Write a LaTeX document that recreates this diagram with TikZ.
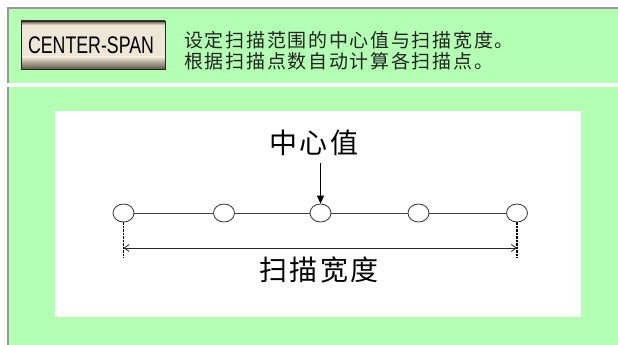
\documentclass[tikz,border=0pt]{standalone}
\usepackage{fontspec}
\setmainfont{Liberation Sans}
\newfontfamily\cjktop[LetterSpace=9]{Noto Sans CJK SC}
\newfontfamily\cjkbig[LetterSpace=8]{Noto Sans CJK SC}
\usetikzlibrary{shapes.geometric,arrows.meta}
\definecolor{panelgreen}{HTML}{B3FFB3}
\definecolor{bordergray}{HTML}{999999}
\definecolor{btnface}{HTML}{EEE7D8}
\definecolor{btndark}{HTML}{5E5646}
\definecolor{txtdark}{HTML}{222222}
\tikzset{
  pt/.style={ellipse,draw=black!80,line width=0.8pt,fill=white,minimum width=21pt,minimum height=18pt,inner sep=0pt},
  link/.style={draw=black!75,line width=0.8pt},
  guide/.style={draw=black,line width=1.5pt,dash pattern=on 2.5pt off 1pt},
  label/.style={inner sep=0pt,anchor=center}
}
\begin{document}
\begin{tikzpicture}[x=1pt,y=-1pt]
\useasboundingbox (0,0) rectangle (618,345);
\fill[white] (0,0) rectangle (618,345);
% top panel
\fill[panelgreen] (9,9) rectangle (618,83);
\fill[bordergray] (7,7) rectangle (618,9);
\fill[bordergray] (7,7) rectangle (9,83);
% lower panel
\fill[panelgreen] (9,87) rectangle (618,345);
\fill[bordergray] (7,87) rectangle (9,345);
% white drawing area
\fill[white] (55,111) rectangle (581,317);
% button
\fill[btnface] (21,21) rectangle (165,69);
\shade[top color=btnface,bottom color=btndark] (21,57) rectangle (165,69);
\shade[top color=btndark,bottom color=btnface] (21,21) rectangle (165,25);
\draw[black!85,line width=0.9pt] (21,21) rectangle (165,69);
\node[label,text=black] (btn) at (91,45) {\scalebox{0.74}[1]{\fontsize{24}{27}\selectfont CENTER-SPAN}};
% description
\node[label,anchor=west,text=txtdark] (d1) at (184,40) {\cjktop\fontsize{19}{22}\selectfont 设定扫描范围的中心值与扫描宽度。};
\node[label,anchor=west,text=txtdark] (d2) at (184,61) {\cjktop\fontsize{19}{22}\selectfont 根据扫描点数自动计算各扫描点。};
% points
\node[pt] (c1) at (123.5,213) {};
\node[pt] (c2) at (224,213) {};
\node[pt] (c3) at (320.5,213) {};
\node[pt] (c4) at (418.5,213) {};
\node[pt] (c5) at (517,213) {};
\draw[link] (c1) -- (c2);
\draw[link] (c2) -- (c3);
\draw[link] (c3) -- (c4);
\draw[link] (c4) -- (c5);
% center label and arrow
\node[label,text=black] (center) at (314,143) {\cjkbig\fontsize{28}{31}\selectfont 中心值};
\coordinate (atop) at (320.5,163);
\draw[black,line width=0.8pt,-{Triangle[length=8pt,width=7pt]}] (atop) -- (c3.north);
% span guides
\coordinate (g1) at (123.5,258);
\coordinate (g5) at (517,258);
\draw[guide] (c1.south) -- (g1);
\draw[guide] (c5.south) -- (g5);
\coordinate (s1) at (123.5,248);
\coordinate (s5) at (517,248);
\draw[black!85,line width=0.8pt,{Straight Barb[length=5pt,width=7pt]}-{Straight Barb[length=5pt,width=7pt]}] (s1) -- (s5);
\node[label,text=black] (span) at (319,270) {\cjkbig\fontsize{28}{31}\selectfont 扫描宽度};
\end{tikzpicture}
\end{document}
